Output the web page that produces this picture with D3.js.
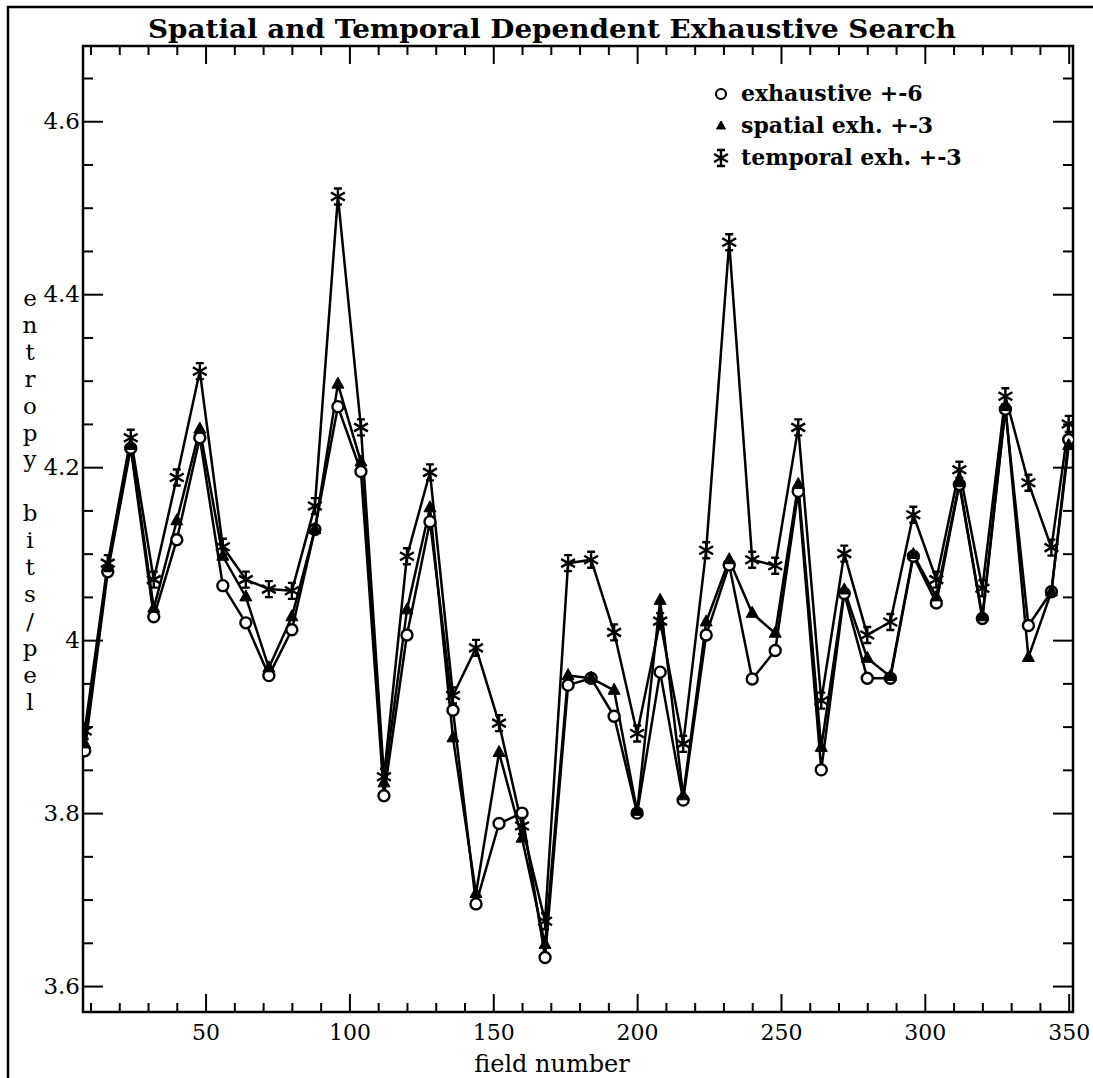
<!DOCTYPE html>
<html>
<head>
<meta charset="utf-8">
<script src="https://cdn.jsdelivr.net/npm/d3@7"></script>
<style>
  body { margin: 0; background: #fff; }
  svg { display: block; }
  text { font-family: "DejaVu Serif", "Liberation Serif", serif; fill: #000; }
</style>
</head>
<body>
<svg id="chart" width="1093" height="1078"></svg>
<script>
// field numbers along x
const fields = [8, 16, 24, 32, 40, 48, 56, 64, 72, 80, 88, 96, 104, 112, 120, 128, 136, 144, 152, 160, 168, 176,
  184, 192, 200, 208, 216, 224, 232, 240, 248, 256, 264, 272, 280, 288, 296, 304, 312, 320, 328, 336, 344, 350];

// entropy in bits/pel
const exhaustive = [3.872, 4.079, 4.222, 4.027, 4.116, 4.234, 4.063, 4.020, 3.959, 4.012, 4.128, 4.270, 4.195, 3.820,
  4.006, 4.137, 3.919, 3.695, 3.788, 3.800, 3.633, 3.948, 3.956, 3.912, 3.800, 3.963, 3.815, 4.006, 4.087, 3.955,
  3.988, 4.172, 3.850, 4.054, 3.956, 3.956, 4.097, 4.043, 4.180, 4.025, 4.267, 4.017, 4.056, 4.232];
const spatial = [3.880, 4.085, 4.225, 4.037, 4.138, 4.244, 4.097, 4.050, 3.968, 4.027, 4.128, 4.296, 4.206, 3.835,
  4.035, 4.153, 3.887, 3.707, 3.870, 3.771, 3.648, 3.959, 3.956, 3.942, 3.802, 4.046, 3.820, 4.021, 4.093, 4.031,
  4.008, 4.180, 3.876, 4.058, 3.979, 3.958, 4.099, 4.050, 4.182, 4.027, 4.270, 3.980, 4.056, 4.225];
const temporal = [3.895, 4.089, 4.234, 4.070, 4.188, 4.311, 4.108, 4.070, 4.059, 4.057, 4.155, 4.513, 4.246, 3.842,
  4.097, 4.194, 3.936, 3.991, 3.904, 3.785, 3.675, 4.089, 4.093, 4.009, 3.892, 4.022, 3.880, 4.104, 4.460, 4.093,
  4.086, 4.246, 3.930, 4.100, 4.006, 4.021, 4.145, 4.070, 4.197, 4.060, 4.282, 4.182, 4.107, 4.250];

const seriesNames = ["exhaustive +-6", "spatial exh. +-3", "temporal exh. +-3"];
const xTicks = [50, 100, 150, 200, 250, 300, 350];
const yTicks = [3.6, 3.8, 4, 4.2, 4.4, 4.6];
const yLabel = "entropy bits/pel";

const svg = d3.select("#chart");
const plotLeft = 83, plotRight = 1073, plotTop = 46, plotBottom = 1012;

const x = d3.scaleLinear().domain([7.4, 351.5]).range([plotLeft, plotRight]);
const y = d3.scaleLinear().domain([3.57, 4.687]).range([plotBottom, plotTop]);

// outer frame (top and left edges only, as on the scan)
svg.append("path")
  .attr("d", `M8,1078 V7 H1093`)
  .attr("fill", "none").attr("stroke", "#000").attr("stroke-width", 2.5);

// title
svg.append("text")
  .attr("x", 552).attr("y", 38)
  .attr("text-anchor", "middle")
  .attr("font-size", 26).attr("font-weight", "bold")
  .attr("textLength", 808).attr("lengthAdjust", "spacingAndGlyphs")
  .text("Spatial and Temporal Dependent Exhaustive Search");

const minorX = d3.range(10, 351, 10).filter(d => d % 50 !== 0);
const minorY = d3.range(3.6, 4.69, 0.05).map(d => +d.toFixed(2)).filter(d => Math.round(d * 100) % 20 !== 0);

function styleAxis(g) {
  g.select(".domain").remove();
  g.selectAll(".tick line").attr("stroke", "#000").attr("stroke-width", 2);
}

// bottom axis
svg.append("g").attr("transform", `translate(0,${plotBottom})`)
  .call(d3.axisBottom(x).tickValues(xTicks).tickSize(-18).tickPadding(12).tickFormat(d3.format("d")))
  .call(styleAxis)
  .call(g => g.selectAll("text").attr("font-size", 22).style("font-family", "DejaVu Serif"));
svg.append("g").attr("transform", `translate(0,${plotBottom})`)
  .call(d3.axisBottom(x).tickValues(minorX).tickSize(-9).tickFormat(""))
  .call(styleAxis);

// top axis
svg.append("g").attr("transform", `translate(0,${plotTop})`)
  .call(d3.axisTop(x).tickValues(xTicks).tickSize(-18).tickFormat(""))
  .call(styleAxis);
svg.append("g").attr("transform", `translate(0,${plotTop})`)
  .call(d3.axisTop(x).tickValues(minorX).tickSize(-9).tickFormat(""))
  .call(styleAxis);

// left axis
svg.append("g").attr("transform", `translate(${plotLeft},0)`)
  .call(d3.axisLeft(y).tickValues(yTicks).tickSize(-20).tickPadding(3).tickFormat(d => String(+d.toFixed(1))))
  .call(styleAxis)
  .call(g => g.selectAll("text").attr("font-size", 23).style("font-family", "DejaVu Serif"));
svg.append("g").attr("transform", `translate(${plotLeft},0)`)
  .call(d3.axisLeft(y).tickValues(minorY).tickSize(-10).tickFormat(""))
  .call(styleAxis);

// right axis
svg.append("g").attr("transform", `translate(${plotRight},0)`)
  .call(d3.axisRight(y).tickValues(yTicks).tickSize(-20).tickFormat(""))
  .call(styleAxis);
svg.append("g").attr("transform", `translate(${plotRight},0)`)
  .call(d3.axisRight(y).tickValues(minorY).tickSize(-10).tickFormat(""))
  .call(styleAxis);

// plot frame
svg.append("rect")
  .attr("x", plotLeft).attr("y", plotTop)
  .attr("width", plotRight - plotLeft).attr("height", plotBottom - plotTop)
  .attr("fill", "none").attr("stroke", "#000").attr("stroke-width", 2.5);

// axis labels
svg.append("text")
  .attr("x", 552).attr("y", 1072)
  .attr("text-anchor", "middle").attr("font-size", 24)
  .text("field number");

const letters = yLabel.split("");
svg.append("g").selectAll("text")
  .data(letters)
  .join("text")
  .attr("x", 30)
  .attr("y", (d, i) => 306 + i * 26.9)
  .attr("text-anchor", "middle")
  .attr("font-size", 23)
  .text(d => d);

// clip to plot area
svg.append("clipPath").attr("id", "plot-clip")
  .append("rect").attr("x", plotLeft).attr("y", plotTop)
  .attr("width", plotRight - plotLeft).attr("height", plotBottom - plotTop);

const plot = svg.append("g").attr("clip-path", "url(#plot-clip)");

const allSeries = [exhaustive, spatial, temporal];
const line = d3.line().x((d, i) => x(fields[i])).y(d => y(d));

allSeries.forEach(vals => {
  plot.append("path")
    .datum(vals)
    .attr("d", line)
    .attr("fill", "none")
    .attr("stroke", "#000")
    .attr("stroke-width", 2.5)
    .attr("stroke-linejoin", "round");
});

// marker shapes
function drawCircle(g, cx, cy) {
  g.append("circle").attr("cx", cx).attr("cy", cy).attr("r", 5.5)
    .attr("fill", "#fff").attr("stroke", "#000").attr("stroke-width", 2.4);
}
function drawTriangle(g, cx, cy) {
  g.append("path")
    .attr("d", `M${cx},${cy - 7} L${cx + 6},${cy + 4} L${cx - 6},${cy + 4} Z`)
    .attr("fill", "#000").attr("stroke", "#000").attr("stroke-width", 1);
}
function drawStar(g, cx, cy) {
  const r = 8;
  const dx = r * Math.cos(Math.PI / 6), dy = r * Math.sin(Math.PI / 6);
  g.append("path")
    .attr("d", `M${cx},${cy - r} V${cy + r} M${cx - dx},${cy - dy} L${cx + dx},${cy + dy} M${cx - dx},${cy + dy} L${cx + dx},${cy - dy}`
      + ` M${cx - 4},${cy - r} H${cx + 4} M${cx - 4},${cy + r} H${cx + 4}`)
    .attr("fill", "none").attr("stroke", "#000").attr("stroke-width", 2.4);
}
const drawers = [drawCircle, drawTriangle, drawStar];

allSeries.forEach((vals, s) => {
  vals.forEach((v, i) => drawers[s](plot, x(fields[i]), y(v)));
});

// legend
const legend = svg.append("g");
seriesNames.forEach((name, i) => {
  const ly = 94 + i * 32;
  if (i === 0) legend.append("circle").attr("cx", 721).attr("cy", ly).attr("r", 5)
    .attr("fill", "#fff").attr("stroke", "#000").attr("stroke-width", 2.2);
  if (i === 1) legend.append("path").attr("d", `M721,${ly - 5} L725.5,${ly + 3} L716.5,${ly + 3} Z`)
    .attr("fill", "#000").attr("stroke", "#000");
  if (i === 2) drawStar(legend, 721, ly);
  legend.append("text")
    .attr("x", 741).attr("y", ly + 7)
    .attr("font-size", 22).attr("font-weight", "bold")
    .text(name);
});
</script>
</body>
</html>
